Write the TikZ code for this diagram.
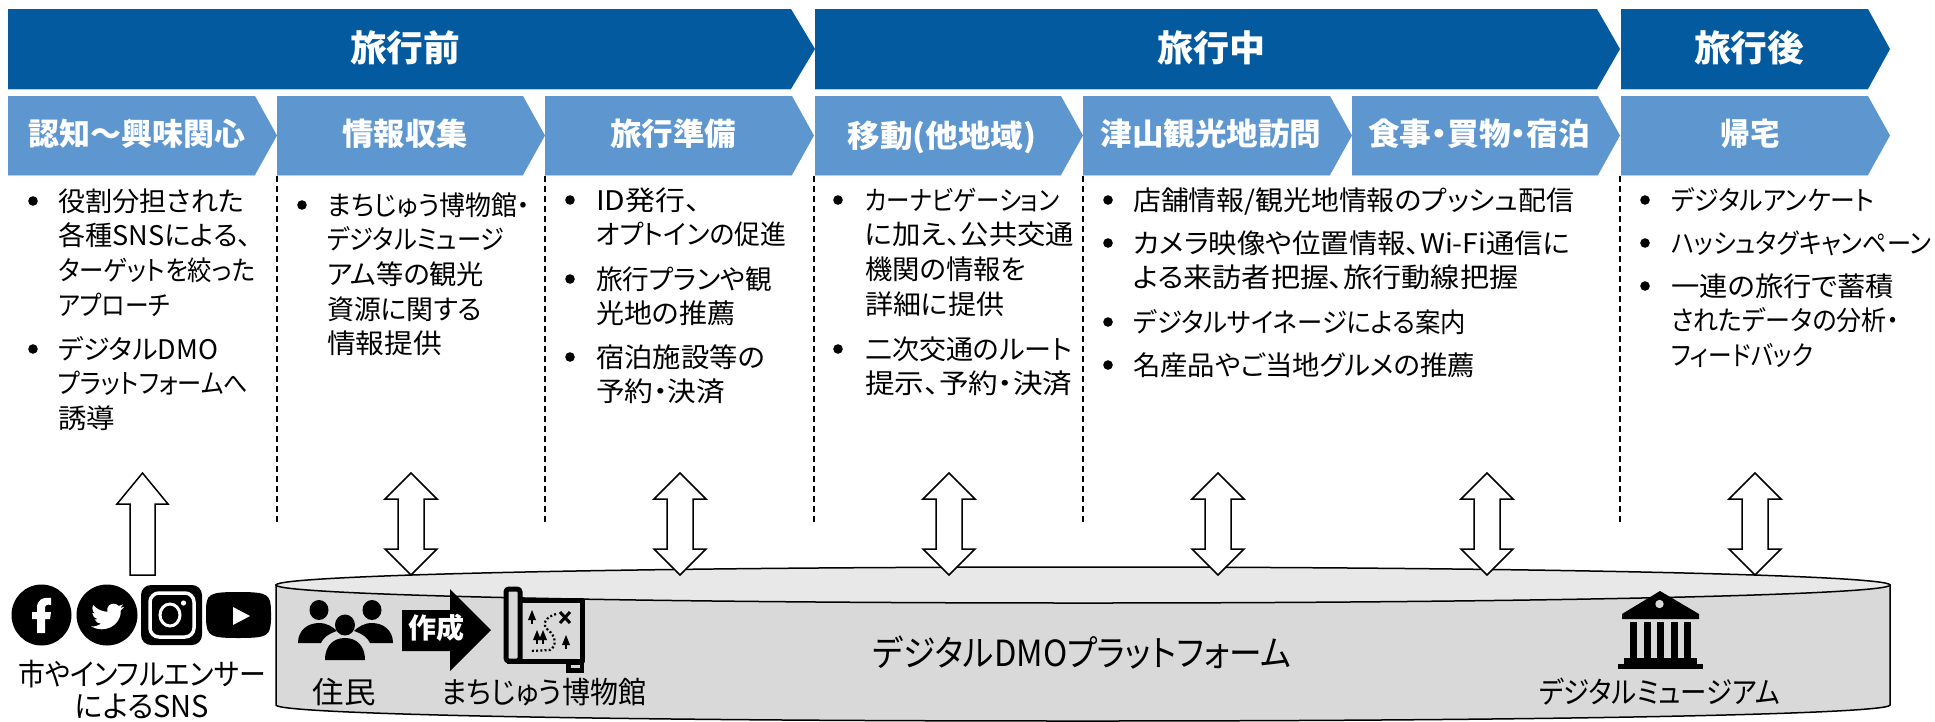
\documentclass[tikz,border=0pt]{standalone}
\usepackage{graphicx}
\usepackage{fontspec}
\setmainfont{Noto Sans CJK JP}[CharacterWidth=AlternateProportional]
\definecolor{darkb}{RGB}{4,90,158}
\definecolor{lightb}{RGB}{94,151,208}
\definecolor{cylside}{RGB}{217,217,217}
\definecolor{cyltop}{RGB}{232,232,232}
\definecolor{edgeb}{RGB}{180,208,238}
\newcommand{\fitw}[2]{\resizebox{#1pt}{\height}{#2}}
\tikzset{
 outl/.style={draw=black,line width=1.5pt,fill=white,line join=miter},
 ttl/.style={text=white,font=\fontsize{36}{38}\selectfont\bfseries,inner sep=0pt},
 subt/.style={text=white,font=\fontsize{31}{34}\selectfont\bfseries,inner sep=0pt},
 body/.style={anchor=north west,align=left,inner sep=0pt,font=\fontsize{27}{34.6}\selectfont},
 captxt/.style={inner sep=0pt,font=\fontsize{30}{32}\selectfont},
 dashv/.style={draw=black,line width=1.3pt,dash pattern=on 6pt off 4pt},
}
\newcommand{\chev}[6]{% x1 x2(shoulder) tip y1 y2 colour
 \fill[#6] (#1,#4)--(#2,#4)--(#3,{(#4+#5)/2})--(#2,#5)--(#1,#5)--cycle;
 \draw[edgeb,line width=0.8pt] (#1,#5)--(#2,#5);}
\newcommand{\dbl}[1]{\draw[outl] (#1,473)--(#1+26,499)--(#1+13,499)--(#1+13,549)--(#1+26,549)--(#1,575)--(#1-26,549)--(#1-13,549)--(#1-13,499)--(#1-26,499)--cycle;}
\newcommand{\bul}[5]{% name, dot x, text x, first-line centre y, lines
 \fill (#2,#4) circle (4.8);
 \node[body] (#1) at (#3,#4-14) {\rule{0pt}{24pt}#5};}
\begin{document}
\begin{tikzpicture}[x=1pt,y=-1pt]
\useasboundingbox (0,0) rectangle (1935,721);
% big chevrons
\chev{8}{791}{815}{9}{89}{darkb}
\chev{815}{1597}{1620}{9}{89}{darkb}
\chev{1621}{1868}{1890}{9}{89}{darkb}
\node[ttl] (t1) at (405,48) {\fitw{110}{旅行前}};
\node[ttl] (t2) at (1211,48) {\fitw{108}{旅行中}};
\node[ttl] (t3) at (1749,48) {\fitw{110}{旅行後}};
% small chevrons
\chev{8}{255}{277}{96}{175}{lightb}
\chev{277}{523}{545}{96}{175}{lightb}
\chev{545}{792}{814}{96}{175}{lightb}
\chev{815}{1061}{1083}{96}{175}{lightb}
\chev{1083}{1330}{1352}{96}{175}{lightb}
\chev{1352}{1598}{1620}{96}{175}{lightb}
\chev{1621}{1868}{1890}{96}{175}{lightb}
\node[subt] (s1) at (136.5,134) {\fitw{217}{認知～興味関心}};
\node[subt] (s2) at (405,134) {\fitw{125}{情報収集}};
\node[subt] (s3) at (673,134) {\fitw{126}{旅行準備}};
\node[subt] (s4) at (942,137) {\fitw{189}{移動(他地域)}};
\node[subt] (s5) at (1211,134) {\fitw{221}{津山観光地訪問}};
\node[subt] (s6) at (1479,134) {\fitw{222}{食事・買物・宿泊}};
\node[subt] (s7) at (1750,134) {\fitw{59}{帰宅}};
% dashed dividers
\foreach \x in {277,545,814,1083,1620} \draw[dashv] (\x,176)--(\x,524);
% bullets
\bul{b1}{33}{58}{201}{\fitw{186}{役割分担された}\\\fitw{193}{各種SNSによる、}\\\fitw{197}{ターゲットを絞った}\\\fitw{112}{アプローチ}}
\bul{b2}{33}{58}{349}{\fitw{160}{デジタルDMO}\\\fitw{190}{プラットフォームへ}\\\fitw{57}{誘導}}
\bul{b3}{302}{327}{205}{\fitw{203}{まちじゅう博物館・}\\\fitw{177}{デジタルミュージ}\\\fitw{157}{アム等の観光}\\\fitw{155}{資源に関する}\\\fitw{115}{情報提供}}
\bul{b4}{570}{596}{200}{\fitw{104}{ID発行、}\\\fitw{190}{オプトインの促進}}
\bul{b5}{570}{596}{279}{\fitw{176}{旅行プランや観}\\\fitw{139}{光地の推薦}}
\bul{b6}{570}{596}{357}{\fitw{169}{宿泊施設等の}\\\fitw{129}{予約・決済}}
\bul{b7}{838}{865}{200}{\fitw{194}{カーナビゲーション}\\\fitw{209}{に加え、公共交通}\\\fitw{161}{機関の情報を}\\\fitw{139}{詳細に提供}}
\bul{b8}{838}{865}{349}{\fitw{207}{二次交通のルート}\\\fitw{207}{提示、予約・決済}}
\bul{b9}{1108}{1133}{200}{\fitw{441}{店舗情報/観光地情報のプッシュ配信}}
\bul{b10}{1108}{1133}{243}{\fitw{437}{カメラ映像や位置情報、Wi-Fi通信に}\\\fitw{385}{よる来訪者把握、旅行動線把握}}
\bul{b11}{1108}{1133}{322}{\fitw{333}{デジタルサイネージによる案内}}
\bul{b12}{1108}{1133}{365}{\fitw{342}{名産品やご当地グルメの推薦}}
\bul{b13}{1645}{1671}{200}{\fitw{203}{デジタルアンケート}}
\bul{b14}{1645}{1671}{243}{\fitw{260}{ハッシュタグキャンペーン}}
\bul{b15}{1645}{1671}{286}{\fitw{223}{一連の旅行で蓄積}\\\fitw{228}{されたデータの分析・}\\\fitw{142}{フィードバック}}
% cylinder
\draw[fill=cylside,line width=1.5pt] (276,585)--(276,705) .. controls (276,714) and (600,721) .. (1083,721) .. controls (1560,721) and (1890,714) .. (1890,705)--(1890,585)--cycle;
\draw[fill=cyltop,line width=1.5pt] (1083,585) ellipse (807 and 18);
% arrows
\draw[outl] (142.5,473)--(168,504)--(155,504)--(155,575)--(130,575)--(130,504)--(117,504)--cycle;
\foreach \x in {411,680,949,1218,1487,1755} {\dbl{\x}}
% cylinder text
\node[inner sep=0pt,font=\fontsize{36}{40}\selectfont] (plat) at (1082,653) {\fitw{418}{デジタルDMOプラットフォーム}};
\node[captxt] (jumin) at (344,692) {\fitw{63}{住民}};
\node[captxt] (machi) at (543.5,692) {\fitw{205}{まちじゅう博物館}};
\node[captxt] (dmuse) at (1659.5,692) {\fitw{241}{デジタルミュージアム}};
\node[captxt] (sns1) at (142,674) {\fitw{248}{市やインフルエンサー}};
\node[captxt] (sns2) at (142,706) {\fitw{134}{によるSNS}};
% SNS icons
\fill (41.5,615) ellipse (30 and 30.5);
\fill[white] (51,598) .. controls (42,597) and (37,600) .. (37,608)--(37,612)--(32,612)--(32,619)--(37,619)--(37,633)--(45,633)--(45,619)--(50,619)--(51,612)--(45,612)--(45,608) .. controls (45,605) and (47,604) .. (51,605)--cycle;
\fill (107,615) ellipse (30.5 and 30.5);
\begin{scope}[shift={(91,601)},xscale=1.38,yscale=1.3]
\fill[white] (23.95,4.57)--(21.13,5.35)--(23.29,2.62)--(20.16,3.8) .. controls (18,1.6) and (15,1.6) .. (13,3.4) .. controls (12,4.6) and (11.4,6.5) .. (11.78,8.29) .. controls (7.7,8.1) and (4.07,6.13) .. (1.64,3.16) .. controls (0.4,5.4) and (1,8.2) .. (3.16,9.73)--(0.93,9.12)--(0.93,9.18) .. controls (1,11.6) and (2.6,13.5) .. (4.88,14)--(2.67,14.09) .. controls (3.3,16) and (5.2,17.4) .. (7.27,17.5) .. controls (5.5,19) and (3,19.7) .. (0,19.54) .. controls (2.3,21) and (4.8,21.75) .. (7.56,21.75) .. controls (16.6,21.75) and (21.8,14.2) .. (21.56,7.77)--(21.54,7.14)--(24,4.59)--cycle;
\end{scope}
\fill[rounded corners=10pt] (141,585) rectangle (202,645);
\draw[white,line width=3.5pt,rounded corners=9pt] (150,593) rectangle (194,637);
\draw[white,line width=3pt] (170,615) ellipse (10 and 11);
\fill[white] (183.5,603) circle (2.6);
\fill (206,612) .. controls (206,594) and (208,592) .. (238,592) .. controls (268,592) and (271,594) .. (271,612)--(271,620) .. controls (270,636) and (268,638) .. (238,638) .. controls (210,638) and (207,636) .. (206,620)--cycle;
\fill[white] (233,607)--(250,616)--(233,625)--cycle;
% people
\fill (319,610) ellipse (9.5 and 10);
\fill (372,610) ellipse (9.5 and 10);
\fill (298,643) .. controls (298,630) and (308,623) .. (319,623) .. controls (327,623) and (333,627) .. (337,631) .. controls (328,634) and (323,638) .. (321,643)--cycle;
\fill (393,643) .. controls (393,630) and (383,623) .. (372,623) .. controls (364,623) and (358,627) .. (354,631) .. controls (363,634) and (368,638) .. (370,643)--cycle;
\fill (345,625) ellipse (10 and 10.5);
\fill (325,660) .. controls (325,645) and (334,638) .. (345,638) .. controls (356,638) and (365,645) .. (365,660)--cycle;
% create arrow
\fill (402,610)--(450,610)--(450,589)--(491,630)--(450,671)--(450,651)--(402,651)--cycle;
\node[text=white,inner sep=0pt,font=\fontsize{28}{30}\selectfont\bfseries] (make) at (436,628) {\fitw{56}{作成}};
% map icon
\draw[line width=5pt,line join=round] (521,600)--(582,600)--(582,661)--(507,661);
\draw[line width=5pt,fill=cylside,rounded corners=3pt] (506,589) rectangle (520,661);
\fill (566,662) rectangle (584,673);
\fill[cylside] (571,664.5) rectangle (580,668);
\foreach \p in {(532,618),(537,638),(543,638),(566,643)} {
 \fill \p ++(0,-8)--++(4,10)--++(-8,0)--cycle;
 \fill \p ++(-1,0) rectangle ++(2,6);}
\draw[line width=3pt] (560,612)--(570,623) (570,612)--(560,623);
\draw[line width=2.2pt,dash pattern=on 2pt off 2.2pt] (556,614) .. controls (546,617) and (541,624) .. (548,630) .. controls (556,636) and (557,646) .. (550,650) -- (530,651);
% museum
\fill (1660,591)--(1699,614)--(1699,619)--(1622,619)--(1622,614)--cycle;
\fill[cylside] (1659.5,604) circle (4.2);
\foreach \x in {1630,1644,1657,1671,1684} \fill (\x,622) rectangle (\x+6.5,658);
\fill (1624,658) rectangle (1697,664);
\fill (1618,664) rectangle (1703,669);
\end{tikzpicture}
\end{document}
